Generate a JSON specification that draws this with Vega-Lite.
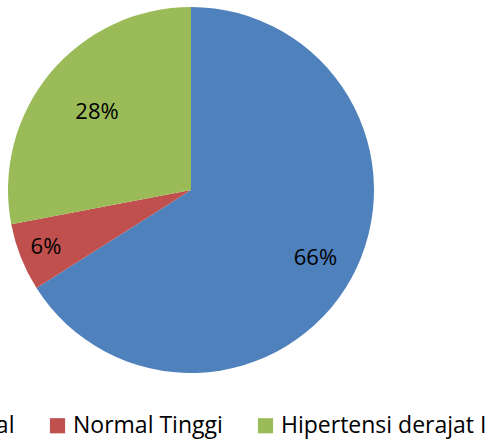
{
  "$schema": "https://vega.github.io/schema/vega-lite/v6.json",
  "width": 382,
  "height": 380,
  "autosize": {"type": "none"},
  "padding": {"left": 0, "top": 0, "right": 106, "bottom": 61},
  "background": "white",
  "view": {"stroke": null},
  "data": {
    "values": [
      {"category": "Normal", "value": 0.66, "rank": 1},
      {"category": "Normal Tinggi", "value": 0.06, "rank": 2},
      {"category": "Hipertensi derajat I", "value": 0.28, "rank": 3}
    ]
  },
  "encoding": {
    "theta": {"field": "value", "type": "quantitative", "stack": true},
    "order": {"field": "rank", "type": "quantitative"}
  },
  "layer": [
    {
      "mark": {"type": "arc", "outerRadius": 183},
      "encoding": {
        "color": {
          "field": "category",
          "type": "nominal",
          "sort": null,
          "scale": {
            "domain": ["Normal", "Normal Tinggi", "Hipertensi derajat I"],
            "range": ["#4F81BD", "#C0504D", "#9BBB59"]
          },
          "legend": {
            "orient": "none",
            "legendX": -93,
            "legendY": 414,
            "direction": "horizontal",
            "title": null,
            "symbolType": "square",
            "symbolSize": 230,
            "symbolStrokeWidth": 0,
            "labelFontSize": 23,
            "labelFont": "Open Sans",
            "labelColor": "black",
            "labelLimit": 0,
            "columnPadding": 31,
            "labelOffset": 4
          }
        }
      }
    },
    {
      "mark": {"type": "text", "radius": 142, "fontSize": 22, "font": "Open Sans", "color": "black"},
      "encoding": {
        "detail": {"field": "category", "type": "nominal"},
        "text": {"condition": {"test": "datum.rank === 1", "field": "value", "type": "quantitative", "format": ".0%"}, "value": ""}
      }
    },
    {
      "mark": {"type": "text", "radius": 156, "fontSize": 22, "font": "Open Sans", "color": "black"},
      "encoding": {
        "detail": {"field": "category", "type": "nominal"},
        "text": {"condition": {"test": "datum.rank === 2", "field": "value", "type": "quantitative", "format": ".0%"}, "value": ""}
      }
    },
    {
      "mark": {"type": "text", "radius": 122, "fontSize": 22, "font": "Open Sans", "color": "black"},
      "encoding": {
        "detail": {"field": "category", "type": "nominal"},
        "text": {"condition": {"test": "datum.rank === 3", "field": "value", "type": "quantitative", "format": ".0%"}, "value": ""}
      }
    }
  ]
}
